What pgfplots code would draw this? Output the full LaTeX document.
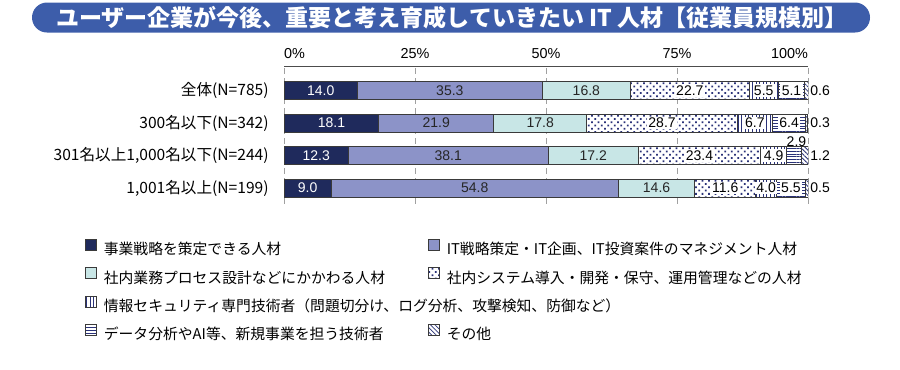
\documentclass[border=0pt]{standalone}
\usepackage{pgfplots}
\pgfplotsset{compat=1.18}
\usepackage{pgfplotstable}
\usetikzlibrary{patterns.meta}
\usepackage{fontspec}
\setmainfont{Liberation Sans}
\newfontfamily\cjk{Noto Sans CJK JP}
\definecolor{c1}{HTML}{1F2A5C}
\definecolor{c2}{HTML}{8C93C8}
\definecolor{c3}{HTML}{C8E6E6}
\definecolor{pc}{HTML}{2A3278}
\definecolor{bd}{HTML}{3A3A3A}
\definecolor{banner}{HTML}{3D5DAA}
\definecolor{gridc}{HTML}{A0A0A0}
\newcommand\valfont{\fontsize{7}{8}\selectfont}
\newcommand\lgent[1]{\makebox[162pt][l]{\cjk\fontsize{7.4}{9}\selectfont #1}}

% label positions (segment centres) and values
\pgfplotstableread{
x y label
7.0 0 14.0
9.05 -1 18.1
6.15 -2 12.3
4.5 -3 9.0
}\lblwhite
\pgfplotstableread{
x y label
31.65 0 35.3
57.7 0 16.8
29.05 -1 21.9
48.9 -1 17.8
31.35 -2 38.1
59.0 -2 17.2
36.4 -3 54.8
71.1 -3 14.6
}\lblplain
\pgfplotstableread{
x y label
77.45 0 22.7
91.55 0 5.5
96.85 0 5.1
72.15 -1 28.7
89.85 -1 6.7
96.4 -1 6.4
79.3 -2 23.4
93.45 -2 4.9
84.2 -3 11.6
92.0 -3 4.0
96.75 -3 5.5
}\lblbox
\pgfplotstableread{
x y label
100 0 0.6
100 -1 0.3
100 -2 1.2
100 -3 0.5
}\lblout
\pgfplotstableread{
x y label
97.8 -1.57 2.9
}\lblabove

\pgfplotsset{
  geom/.style={
    at={(142pt,-32.5pt)}, anchor=north west,
    scale only axis, width=262pt, height=68.5pt,
    xmin=0, xmax=100, ymin=-3.477, ymax=0.738,
  },
  sq legend/.style={legend image code/.code={
    \draw[##1] (0pt,0.1pt) rectangle (5.5pt,5.6pt); \path (9pt,0pt);}},
}

\begin{document}
\begin{tikzpicture}
\begin{scope}[x=0.5pt,y=-0.5pt]
\path (0,0) rectangle (900,368);
\fill[banner, rounded corners=7.5pt] (32,1) rectangle (870,31);
\node[text=white, font={\cjk\bfseries\fontsize{11.5}{13}\selectfont}] at (452,16.5)
  {ユーザー企業が今後、重要と考え育成していきたい IT 人材【従業員規模別】};
\end{scope}

\begin{axis}[geom,
  xbar stacked, bar width=9pt,
  axis line style={draw=none},
  xtick={0,25,50,75,100},
  xticklabels={\makebox[0pt][l]{0\%},25\%,50\%,75\%,\makebox[0pt][r]{100\%}},
  xticklabel pos=upper,
  xticklabel style={font=\fontsize{7.2}{8}\selectfont, inner sep=0pt, text depth=0pt, anchor=south, yshift=4pt},
  xmajorgrids,
  major grid style={dash pattern=on 3pt off 2pt, gridc, line width=0.45pt},
  ytick={0,-1,-2,-3},
  yticklabels={{全体(N=785)},{300名以下(N=342)},{301名以上1,000名以下(N=244)},{1,001名以上(N=199)}},
  yticklabel style={font={\cjk\fontsize{7.8}{9}\selectfont}, inner sep=0pt, xshift=-7.5pt},
  major tick length=0pt,
  tick style={draw=none},
  legend columns=2,
  legend cell align=left,
  legend style={draw=none, fill=none, inner sep=0pt, outer sep=0pt,
    at={(-0.37977,-0.2591)}, anchor=north west,
    row sep=4.85pt, column sep=0pt,
    nodes={inner sep=0pt, text height=5.5pt, text depth=1.5pt}},
  every axis plot post/.append style={sq legend, draw=bd, line width=0.45pt},
]
\addplot[fill=c1] coordinates {(14.0,0) (18.1,-1) (12.3,-2) (9.0,-3)};
\addlegendentry{\lgent{事業戦略を策定できる人材}}
\addplot[fill=c2] coordinates {(35.3,0) (21.9,-1) (38.1,-2) (54.8,-3)};
\addlegendentry{\lgent{IT戦略策定・IT企画、IT投資案件のマネジメント人材}}
\addplot[fill=c3] coordinates {(16.8,0) (17.8,-1) (17.2,-2) (14.6,-3)};
\addlegendentry{\lgent{社内業務プロセス設計などにかかわる人材}}
\addplot[fill=white, postaction={pattern color=pc, pattern={Dots[distance=2.3pt,radius=0.62pt,angle=45]}}]
  coordinates {(22.7,0) (28.7,-1) (23.4,-2) (11.6,-3)};
\addlegendentry{\lgent{社内システム導入・開発・保守、運用管理などの人材}}
\addplot[fill=white, postaction={pattern color=pc, pattern={Lines[angle=90,distance=1.8pt,line width=0.45pt]}}]
  coordinates {(5.5,0) (6.7,-1) (4.9,-2) (4.0,-3)};
\addlegendentry{\lgent{情報セキュリティ専門技術者（問題切分け、ログ分析、攻撃検知、防御など）}}
\addlegendimage{opacity=0}
\addlegendentry{}
\addplot[fill=white, postaction={pattern color=pc, pattern={Lines[angle=0,distance=1.4pt,line width=0.4pt]}}]
  coordinates {(5.1,0) (6.4,-1) (2.9,-2) (5.5,-3)};
\addlegendentry{\lgent{データ分析やAI等、新規事業を担う技術者}}
\addplot[fill=white, postaction={pattern color=pc, pattern={Lines[angle=-45,distance=1.6pt,line width=0.4pt]}}]
  coordinates {(0.6,0) (0.3,-1) (1.2,-2) (0.5,-3)};
\addlegendentry{\lgent{その他}}
\draw[black!70, line width=0.5pt] (axis cs:0,0.738) -- (axis cs:100,0.738);
\end{axis}

\begin{axis}[geom, hide axis, clip=false]
\addplot[only marks, mark=none, point meta=explicit symbolic, nodes near coords,
  nodes near coords style={anchor=center, text=white, font=\valfont, inner sep=0pt}]
  table[x=x,y=y,meta=label]{\lblwhite};
\addplot[only marks, mark=none, point meta=explicit symbolic, nodes near coords,
  nodes near coords style={anchor=center, text=black!85, font=\valfont, inner sep=0pt}]
  table[x=x,y=y,meta=label]{\lblplain};
\addplot[only marks, mark=none, point meta=explicit symbolic, nodes near coords,
  nodes near coords style={anchor=center, text=black, fill=white, font=\valfont, inner sep=0.7pt}]
  table[x=x,y=y,meta=label]{\lblbox};
\addplot[only marks, mark=none, point meta=explicit symbolic, nodes near coords,
  nodes near coords style={anchor=west, text=black, font=\valfont, inner sep=0pt, xshift=1pt}]
  table[x=x,y=y,meta=label]{\lblout};
\addplot[only marks, mark=none, point meta=explicit symbolic, nodes near coords,
  nodes near coords style={anchor=center, text=black, font=\valfont, inner sep=0pt}]
  table[x=x,y=y,meta=label]{\lblabove};
\end{axis}
\end{tikzpicture}
\end{document}
